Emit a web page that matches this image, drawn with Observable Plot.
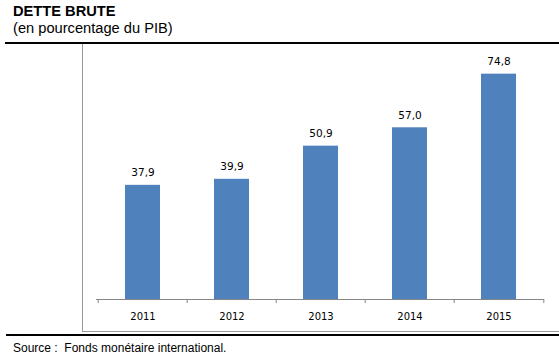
<!DOCTYPE html>
<html><head><meta charset="utf-8">
<script src="https://cdn.jsdelivr.net/npm/d3@7"></script>
<script src="https://cdn.jsdelivr.net/npm/@observablehq/plot@0.6"></script>
<style>
body{margin:0;background:#fff;}
#wrap{position:relative;width:559px;height:359px;overflow:hidden;background:#fff;font-family:"Liberation Sans",Arial,sans-serif;color:#000;}
#chart{position:absolute;left:0;top:0;}
.t{position:absolute;white-space:pre;line-height:1;z-index:2;}
.title{left:13px;top:4.4px;font-size:14.67px;font-weight:bold;}
.sub{left:13px;top:20.6px;font-size:14.67px;}
.src{left:13px;top:341.8px;font-size:12px;}
.rule{position:absolute;background:#000;z-index:2;}
.fl{position:absolute;left:82px;top:44px;width:0;height:287px;border-left:1px solid #999;z-index:2;}
.fb{position:absolute;left:82px;top:331px;width:477px;height:0;border-top:1px solid #999;z-index:2;}
</style></head>
<body>
<div id="wrap">
  <div id="chart"></div>
  <div class="t title">DETTE BRUTE</div>
  <div class="t sub">(en pourcentage du PIB)</div>
  <div class="rule" style="left:5px;top:42px;width:554px;height:2px;"></div>
  <div class="fl"></div>
  <div class="fb"></div>
  <div class="rule" style="left:6px;top:334px;width:553px;height:2px;"></div>
  <div class="t src">Source :  Fonds monétaire international.</div>
</div>
<script>
const years = ["2011", "2012", "2013", "2014", "2015"];
const debt = [37.9, 39.9, 50.9, 57.0, 74.8];
const data = years.map((year, i) => ({year, value: debt[i]}));

const W = 559, H = 359, mL = 96, mR = 15, mT = 58, mB = 60;
const step = (W - mL - mR) / years.length;
const pIn = 0.61;

const plot = Plot.plot({
  width: W, height: H,
  marginLeft: mL, marginRight: mR, marginTop: mT, marginBottom: mB,
  style: {fontFamily: "DejaVu Sans", fontSize: "10px", color: "#000", background: "transparent"},
  x: {type: "band", domain: years, paddingInner: pIn, paddingOuter: pIn / 2, label: null},
  y: {domain: [0, 80], axis: null},
  marks: [
    Plot.barY(data, {x: "year", y: "value", fill: "#4F81BD"}),
    Plot.ruleY([0], {stroke: "#868686"}),
    Plot.axisX({tickSize: 4, tickFormat: () => "", dx: -step / 2, stroke: "#868686", label: null}),
    Plot.axisX({ticks: [years[years.length - 1]], tickSize: 4, tickFormat: () => "", dx: step / 2, stroke: "#868686", label: null}),
    Plot.axisX({tickSize: 0, tickPadding: 13, fontSize: 10, fontFamily: "DejaVu Sans", fill: "#000", label: null}),
    Plot.text(data, {x: "year", y: "value", text: d => d.value.toFixed(1).replace(".", ","),
      dy: -12.6, lineAnchor: "middle", fontSize: 10.5, fontFamily: "DejaVu Sans", fill: "#000"})
  ]
});
document.getElementById("chart").appendChild(plot);
</script>
</body></html>
